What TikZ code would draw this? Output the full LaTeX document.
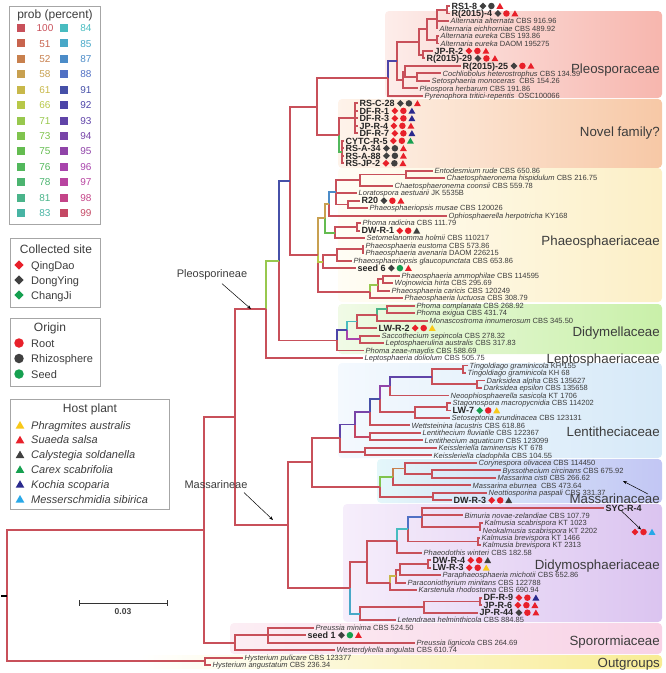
\documentclass[tikz,border=0pt]{standalone}
\usepackage{fontspec}
\setmainfont{Liberation Sans}
\usetikzlibrary{shapes.geometric,arrows.meta,positioning}

\definecolor{c100}{HTML}{C8505A}
\definecolor{c51}{HTML}{C8644E}
\definecolor{c52}{HTML}{C8804E}
\definecolor{c58}{HTML}{C8A050}
\definecolor{c61}{HTML}{C8B84A}
\definecolor{c66}{HTML}{B8C848}
\definecolor{c71}{HTML}{98C84E}
\definecolor{c73}{HTML}{80C44E}
\definecolor{c75}{HTML}{64BC50}
\definecolor{c76}{HTML}{52B85C}
\definecolor{c78}{HTML}{4CB470}
\definecolor{c81}{HTML}{4AB48A}
\definecolor{c83}{HTML}{48B4A4}
\definecolor{c84}{HTML}{48BCC0}
\definecolor{c85}{HTML}{48A8C8}
\definecolor{c87}{HTML}{4C8CC8}
\definecolor{c88}{HTML}{5070C4}
\definecolor{c91}{HTML}{4650A8}
\definecolor{c92}{HTML}{4C44A8}
\definecolor{c93}{HTML}{6044A8}
\definecolor{c94}{HTML}{7844A8}
\definecolor{c95}{HTML}{9044A8}
\definecolor{c96}{HTML}{A844AC}
\definecolor{c97}{HTML}{B844A0}
\definecolor{c98}{HTML}{C44488}
\definecolor{c99}{HTML}{C44864}
\definecolor{mred}{HTML}{E8202A}
\definecolor{mdark}{HTML}{404040}
\definecolor{mgreen}{HTML}{16A050}
\definecolor{myellow}{HTML}{F8C818}
\definecolor{mnavy}{HTML}{2A2A8E}
\definecolor{mblue}{HTML}{28A8E8}
\definecolor{txt}{HTML}{3C3C3C}
\definecolor{pleoL}{HTML}{FDEDEA}
\definecolor{pleoR}{HTML}{F7B6AE}
\definecolor{novL}{HTML}{FEF3EA}
\definecolor{novR}{HTML}{F7C8A6}
\definecolor{phaL}{HTML}{FFFDF5}
\definecolor{phaR}{HTML}{FCEFC6}
\definecolor{didL}{HTML}{F0FAE6}
\definecolor{didR}{HTML}{C9F0A9}
\definecolor{lenL}{HTML}{F4F9FE}
\definecolor{lenR}{HTML}{D6E9F8}
\definecolor{masL}{HTML}{E4F7FA}
\definecolor{masR}{HTML}{C2C6F4}
\definecolor{dimL}{HTML}{F6EEFB}
\definecolor{dimR}{HTML}{DBC4F0}
\definecolor{spoL}{HTML}{FCEEF4}
\definecolor{spoR}{HTML}{F8D2E6}
\definecolor{outR}{HTML}{F8EC94}

\newcommand\ly[1]{6+(#1-1)*7.49}
\newcommand\inode[3]{\coordinate (#1) at (#2,{\ly{#3}});}
\newcommand\kids[3][c100]{\foreach \kid in {#3} \draw[branch,draw=#1] (#2) |- (\kid);}
\newcommand\taxon[4]{\coordinate (t#1) at (#2,{\ly{#1}});
  \node[taxlab] (l#1) at (t#1) {\textit{#3} #4};}
\newcommand\markers[4]{\node[site,fill=#2] (#1d) at ([xshift=5.5pt]#1.east) {};
  \node[orig,fill=#3] (#1o) at ([xshift=8.5pt]#1d.center) {};
  \node[host,fill=#4] (#1h) at ([xshift=8.5pt]#1o.center) {};}
\newcommand\strain[6]{\coordinate (t#1) at (#2,{\ly{#1}});
  \node[strlab] (l#1) at (t#1) {#3};
  \markers{l#1}{#4}{#5}{#6}}

\begin{document}
\begin{tikzpicture}[x=1pt,y=-1pt,
  every node/.style={text=txt},
  branch/.style={line width=1.9pt},
  taxlab/.style={anchor=west,inner sep=0pt,xshift=1.5pt,text height=5.4pt,text depth=0pt,font=\fontsize{7.5}{8}\selectfont},
  strlab/.style={anchor=west,inner sep=0pt,xshift=1.5pt,text height=6.4pt,text depth=0pt,text=black!85,font=\bfseries\fontsize{9}{9.5}\selectfont},
  site/.style={diamond,inner sep=0pt,minimum size=7pt},
  orig/.style={circle,inner sep=0pt,minimum size=6.5pt},
  host/.style={regular polygon,regular polygon sides=3,inner sep=0pt,minimum size=8pt,yshift=-0.8pt},
  family/.style={anchor=east,inner sep=0pt,text height=9.5pt,text depth=0pt,font=\fontsize{13.3}{14}\selectfont},
  clade/.style={font=\fontsize{11}{12}\selectfont},
  pointer/.style={-{Stealth[length=4pt,width=3pt]},line width=0.5pt,draw=black},
  famshade/.style={rounded corners=4pt},
  legbox/.style={draw=gray!70,line width=0.8pt},
  legtitle/.style={font=\fontsize{12}{13}\selectfont},
  legtext/.style={anchor=west,inner sep=0pt,text height=8pt,text depth=0pt,font=\fontsize{11}{12}\selectfont},
  legnum/.style={inner sep=0pt,text height=7.2pt,text depth=0pt,font=\fontsize{10}{11}\selectfont},
  swatch/.style={minimum size=8pt,inner sep=0pt},
  lsite/.style={diamond,inner sep=0pt,minimum size=9.5pt},
  lorig/.style={circle,inner sep=0pt,minimum size=9.5pt},
  lhost/.style={regular polygon,regular polygon sides=3,inner sep=0pt,minimum size=10pt,yshift=-1pt}]
\useasboundingbox (0,0) rectangle (666,673);

% family backgrounds
\shade[famshade,left color=pleoL,right color=pleoR] (385,11) rectangle (662,98);
\shade[famshade,left color=novL,right color=novR] (338,99) rectangle (662,168);
\shade[famshade,left color=phaL,right color=phaR] (338,168) rectangle (662,302);
\shade[famshade,left color=didL,right color=didR] (338,304) rectangle (662,354);
\shade[famshade,left color=lenL,right color=lenR] (338,363) rectangle (662,458);
\shade[famshade,left color=masL,right color=masR] (377,459) rectangle (662,503);
\shade[famshade,left color=dimL,right color=dimR] (343,504) rectangle (662,622);
\shade[famshade,left color=spoL,right color=spoR] (230,623) rectangle (662,654);
\shade[famshade,left color=white,right color=outR] (140,655) rectangle (662,669);

% legends
\draw[legbox] (9,6) rectangle (100,224);
\node[legtitle] (probtitle) at (55,15) {prob (percent)};
\foreach \l/\r [count=\k from 0] in {100/84,51/85,52/87,58/88,61/91,66/92,71/93,73/94,75/95,76/96,78/97,81/98,83/99}{
  \node[swatch,fill=c\l] (sl\k) at (21,{28+15.42*\k}) {};
  \node[legnum,text=c\l] (nl\k) at (45,{28+15.42*\k}) {\l};
  \node[swatch,fill=c\r] (sr\k) at (64,{28+15.42*\k}) {};
  \node[legnum,text=c\r] (nr\k) at (86,{28+15.42*\k}) {\r};
}
\draw[legbox] (10,238) rectangle (100,307);
\node[legtitle] (sitetitle) at (56,249) {Collected site};
\foreach \col/\name [count=\k from 0] in {mred/QingDao,mdark/DongYing,mgreen/ChangJi}{
  \node[lsite,fill=\col] (cs\k) at (19,{265+15*\k}) {};
  \node[legtext] (cst\k) at (31,{265+15*\k}) {\name};
}
\draw[legbox] (10,318) rectangle (100,386);
\node[legtitle] (origtitle) at (50,328) {Origin};
\foreach \col/\name [count=\k from 0] in {mred/Root,mdark/Rhizosphere,mgreen/Seed}{
  \node[lorig,fill=\col] (or\k) at (19,{343+15.5*\k}) {};
  \node[legtext] (ort\k) at (31,{343+15.5*\k}) {\name};
}
\draw[legbox] (10,399) rectangle (169,509);
\node[legtitle] (hosttitle) at (90,409) {Host plant};
\foreach \col/\name [count=\k from 0] in {myellow/Phragmites australis,mred/Suaeda salsa,mdark/Calystegia soldanella,mgreen/Carex scabrifolia,mnavy/Kochia scoparia,mblue/Messerschmidia sibirica}{
  \node[lhost,fill=\col] (hp\k) at (20,{425+14.8*\k}) {};
  \node[legtext,font=\itshape\fontsize{11}{12}\selectfont] (hpt\k) at (31,{425+14.8*\k}) {\name};
}

% leaves: Pleosporaceae
\strain{1}{450}{RS1-8}{mdark}{mdark}{mred}
\strain{2}{450}{R(2015)-4}{mdark}{mred}{mred}
\taxon{3}{449}{Alternaria alternata}{CBS 916.96}
\taxon{4}{438}{Alternaria eichhorniae}{CBS 489.92}
\taxon{5}{439}{Alternaria eureka}{CBS 193.86}
\taxon{6}{439}{Alternaria eureka}{DAOM 195275}
\strain{7}{433}{JP-R-2}{mred}{mred}{mred}
\strain{8}{425}{R(2015)-29}{mdark}{mred}{mred}
\strain{9}{461}{R(2015)-25}{mdark}{mred}{mred}
\taxon{10}{441}{Cochliobolus heterostrophus}{CBS 134.39}
\taxon{11}{430}{Setosphaeria monoceras}{\ CBS 154.26}
\taxon{12}{418}{Pleospora herbarum}{CBS 191.86}
\taxon{13}{423}{Pyrenophora tritici-repentis}{\ OSC100066}
% Novel family
\strain{14}{358}{RS-C-28}{mdark}{mdark}{mred}
\strain{15}{358}{DF-R-1}{mred}{mred}{mnavy}
\strain{16}{358}{DF-R-3}{mred}{mred}{mnavy}
\strain{17}{358}{JP-R-4}{mred}{mred}{mred}
\strain{18}{358}{DF-R-7}{mred}{mred}{mnavy}
\strain{19}{344}{CYTC-R-5}{mred}{mred}{mgreen}
\strain{20}{344}{RS-A-34}{mdark}{mdark}{mred}
\strain{21}{344}{RS-A-88}{mdark}{mdark}{mred}
\strain{22}{344}{RS-JP-2}{mred}{mdark}{mred}
% Phaeosphaeriaceae
\taxon{23}{433}{Entodesmium rude}{CBS 650.86}
\taxon{24}{445}{Chaetosphaeronema hispidulum}{CBS 216.75}
\taxon{25}{393}{Chaetosphaeronema coonsii}{CBS 559.78}
\taxon{26}{357}{Loratospora aestuarii}{JK 5535B}
\strain{27}{360}{R20}{mdark}{mred}{mred}
\taxon{28}{368}{Phaeosphaeriopsis musae}{CBS 120026}
\taxon{29}{447}{Ophiosphaerella herpotricha}{KY168}
\taxon{30}{361}{Phoma radicina}{CBS 111.79}
\strain{31}{360}{DW-R-1}{mred}{mred}{mdark}
\taxon{32}{365}{Setomelanomma holmii}{CBS 110217}
\taxon{33}{364}{Phaeosphaeria eustoma}{CBS 573.86}
\taxon{34}{364}{Phaeosphaeria avenaria}{DAOM 226215}
\taxon{35}{352}{Phaeosphaeriopsis glaucopunctata}{CBS 653.86}
\strain{36}{356}{seed 6}{mdark}{mgreen}{mred}
\taxon{37}{400}{Phaeosphaeria ammophilae}{CBS 114595}
\taxon{38}{393}{Wojnowicia hirta}{CBS 295.69}
\taxon{39}{390}{Phaeosphaeria caricis}{CBS 120249}
\taxon{40}{403}{Phaeosphaeria luctuosa}{CBS 308.79}
% Didymellaceae, Leptosphaeriaceae
\taxon{41}{415}{Phoma complanata}{CBS 268.92}
\taxon{42}{415}{Phoma exigua}{CBS 431.74}
\taxon{43}{428}{Monascostroma innumerosum}{CBS 345.50}
\strain{44}{377}{LW-R-2}{mred}{mred}{myellow}
\taxon{45}{380}{Saccothecium sepincola}{CBS 278.32}
\taxon{46}{384}{Leptosphaerulina australis}{CBS 317.83}
\taxon{47}{364}{Phoma zeae-maydis}{CBS 588.69}
\taxon{48}{363}{Leptosphaeria doliolum}{CBS 505.75}
% Lentitheciaceae
\taxon{49}{468}{Tingoldiago graminicola}{KH 155}
\taxon{50}{466}{Tingoldiago graminicola}{KH 68}
\taxon{51}{485}{Darksidea alpha}{CBS 135627}
\taxon{52}{482}{Darksidea epsilon}{CBS 135658}
\taxon{53}{449}{Neoophiosphaerella sasicola}{KT 1706}
\taxon{54}{451}{Stagonospora macropycnidia}{CBS 114202}
\strain{55}{451}{LW-7}{mgreen}{mred}{myellow}
\taxon{56}{450}{Setoseptoria arundinacea}{CBS 123131}
\taxon{57}{410}{Wettsteinina lacustris}{CBS 618.86}
\taxon{58}{421}{Lentithecium fluviatile}{CBS 122367}
\taxon{59}{423}{Lentithecium aquaticum}{CBS 123099}
\taxon{60}{437}{Keissleriella taminensis}{KT 678}
\taxon{61}{432}{Keissleriella cladophila}{CBS 104.55}
% Massarinaceae
\taxon{62}{477}{Corynespora olivacea}{CBS 114450}
\taxon{63}{501}{Byssothecium circinans}{CBS 675.92}
\taxon{64}{496}{Massarina cisti}{CBS 266.62}
\taxon{65}{471}{Massarina eburnea}{\ CBS 473.64}
\taxon{66}{487}{Neottiosporina paspali}{CBS 331.37}
\strain{67}{452}{DW-R-3}{mred}{mred}{mdark}
% Didymosphaeriaceae
\coordinate (t68) at (604,{\ly{68}});
\node[strlab] (l68) at (t68) {SYC-R-4};
\node[site,fill=mred] (l68d) at (635,532) {};
\node[orig,fill=mred] (l68o) at (643.5,532) {};
\node[host,fill=mblue] (l68h) at (652,532) {};
\draw[pointer] ([xshift=-2pt]l68.south) -- (l68o.north west);
\taxon{69}{463}{Bimuria novae-zelandiae}{CBS 107.79}
\taxon{70}{483}{Kalmusia scabrispora}{KT 1023}
\taxon{71}{481}{Neokalmusia scabrispora}{KT 2202}
\taxon{72}{480}{Kalmusia brevispora}{KT 1466}
\taxon{73}{481}{Kalmusia brevispora}{KT 2313}
\taxon{74}{422}{Phaeodothis winteri}{CBS 182.58}
\strain{75}{431}{DW-R-4}{mred}{mred}{mdark}
\strain{76}{431}{LW-R-3}{mred}{mred}{myellow}
\taxon{77}{441}{Paraphaeosphaeria michotii}{CBS 652.86}
\taxon{78}{406}{Paraconiothyrium minitans}{CBS 122788}
\taxon{79}{417}{Karstenula rhodostoma}{CBS 690.94}
\strain{80}{482}{DF-R-9}{mred}{mred}{mnavy}
\strain{81}{482}{JP-R-6}{mred}{mred}{mred}
\strain{82}{478}{JP-R-44}{mdark}{mred}{mred}
\taxon{83}{396}{Letendraea helminthicola}{CBS 884.85}
% Sporormiaceae, outgroups
\taxon{84}{314}{Preussia minima}{CBS 524.50}
\strain{85}{306}{seed 1}{mdark}{mgreen}{mred}
\taxon{86}{415}{Preussia lignicola}{CBS 264.69}
\taxon{87}{335}{Westerdykella angulata}{CBS 610.74}
\taxon{88}{243}{Hysterium pulicare}{CBS 123377}
\taxon{89}{211}{Hysterium angustatum}{CBS 236.34}

% internal nodes
\inode{a1}{447}{1.5} \inode{a2}{437}{2.75} \inode{a4}{437}{5.5}
\inode{a5}{427}{4.125} \inode{a6}{423}{7.5} \inode{a7}{419}{5.8125}
\inode{a8}{417}{10.5} \inode{a9}{405}{9.75} \inode{a10}{403}{10.875}
\inode{a11}{397}{8.34375} \inode{a12}{388}{10.671875}
\inode{nf1}{355}{16} \inode{nf2}{342}{20.5} \inode{nf}{339}{18.25}
\inode{pq}{317}{14.4609}
\inode{d1}{406}{23.5} \inode{d2}{360}{24.25} \inode{d4}{348}{27.5}
\inode{d3}{336}{25.875} \inode{d5}{329}{27.4375}
\inode{e1}{357}{30.5} \inode{e2}{335}{31.25} \inode{pha}{325}{29.34375}
\inode{c1}{363}{33.5} \inode{c2}{337}{34.25} \inode{c3}{323}{35.125}
\inode{b1}{383}{37.5} \inode{b2}{378}{38.25} \inode{b3}{370}{39.125}
\inode{ph}{318}{34.234375} \inode{pl2}{290}{24.3477}
\inode{f1}{387}{41.5} \inode{f2}{377}{42.25} \inode{f3}{357}{43.125}
\inode{f4}{360}{45.5} \inode{dd1}{347}{44.3125} \inode{dd0}{337}{45.65625}
\inode{pl1}{279}{35.002} \inode{pleo}{266}{41.501}
\inode{g1}{463}{49.5} \inode{g2}{477}{51.5} \inode{g3}{432}{50.5} \inode{g4}{390}{51.75}
\inode{h1}{447}{54.5} \inode{h2}{415}{55.25} \inode{lv}{380}{53.5} \inode{lw}{370}{55.25}
\inode{h4}{370}{58.5} \inode{l1}{355}{56.875} \inode{k1}{365}{60.5} \inode{l0}{340}{58.6875}
\inode{mb}{432}{63.5} \inode{ma}{405}{62.75} \inode{m4}{393}{63.875}
\inode{m5}{433}{66.5} \inode{mc}{380}{65.1875} \inode{m1}{312}{61.9375}
\inode{n1}{480}{70.5} \inode{n4}{422}{69.25} \inode{n2}{478}{72.5}
\inode{n3}{408}{70.875} \inode{n6}{397}{72.4375}
\inode{r1}{428}{75.5} \inode{r2}{400}{76.25} \inode{r3}{396}{77.125}
\inode{r4}{390}{78.0625} \inode{n7}{367}{75.25}
\inode{q1}{480}{80.5} \inode{q2}{424}{81.25} \inode{q0}{360}{82.125}
\inode{di0}{350}{78.6875} \inode{mass}{288}{70.3125}
\inode{s2}{268}{85} \inode{spo}{235}{86} \inode{pm}{235}{55.9068}
\inode{nn1}{204}{70.9534} \inode{out}{205}{88.5} \inode{root}{7}{79.7267}
\coordinate (rootend) at (1,{\ly{79.7267}});

% branches
\kids{a1}{t1,t2} \kids{a2}{a1,t3,t4} \kids{a4}{t5,t6} \kids{a5}{a2,a4}
\kids{a6}{t7,t8} \kids{a7}{a5,a6} \kids{a8}{t10,t11} \kids{a9}{t9,a8}
\kids{a10}{a9,t12} \kids{a11}{a7,a10} \kids[c92]{a12}{a11} \kids{a12}{t13}
\kids{nf1}{t14,t15,t16,t17,t18} \kids{nf2}{t19,t20,t21,t22}
\kids{nf}{nf1} \kids[c76]{nf}{nf2} \kids{pq}{a12,nf}
\kids{d1}{t23,t24} \kids{d2}{d1,t25} \kids{d4}{t27,t28} \kids{d3}{d2,t26,d4}
\kids[c87]{d5}{d3} \kids{d5}{t29}
\kids{e1}{t30,t31} \kids{e2}{e1,t32} \kids[c58]{pha}{d5} \kids[c75]{pha}{e2}
\kids{c1}{t33,t34} \kids{c2}{c1,t35} \kids{c3}{c2,t36}
\kids{b1}{t37,t38} \kids{b2}{b1,t39} \kids[c71]{b3}{b2} \kids{b3}{t40}
\kids{ph}{b3} \kids[c58]{ph}{pha} \kids[c66]{ph}{c3}
\kids{pl2}{pq,ph}
\kids{f1}{t41,t42} \kids[c81]{f2}{f1} \kids{f2}{t43} \kids{f3}{f2,t44}
\kids{f4}{t45,t46} \kids[c84]{dd1}{f3} \kids[c96]{dd1}{f4}
\kids[c92]{dd0}{dd1} \kids{dd0}{t47}
\kids{pl1}{dd0} \kids[c91]{pl1}{pl2} \kids{pleo}{t48} \kids[c71]{pleo}{pl1}
\kids{g1}{t49,t50} \kids{g2}{t51,t52} \kids{g3}{g1,g2} \kids[c93]{g4}{g3} \kids{g4}{t53}
\kids{h1}{t54,t55} \kids{h2}{h1,t56} \kids[c95]{lv}{g4} \kids{lv}{h2}
\kids[c91]{lw}{lv} \kids{lw}{t57}
\kids{h4}{t58,t59} \kids[c94]{l1}{lw} \kids[c99]{l1}{h4}
\kids{k1}{t60,t61} \kids[c93]{l0}{l1} \kids{l0}{k1}
\kids{mb}{t63,t64} \kids{ma}{t62,mb} \kids[c52]{m4}{ma} \kids{m4}{t65}
\kids{m5}{t66,t67} \kids[c73]{mc}{m4} \kids{mc}{m5} \kids{m1}{l0,mc}
\kids{n1}{t70,t71} \kids{n4}{t68,t69,n1} \kids{n2}{t72,t73}
\kids[c88]{n3}{n4} \kids{n3}{n2} \kids[c84]{n6}{n3} \kids{n6}{t74}
\kids{r1}{t75,t76} \kids{r2}{r1,t77} \kids{r3}{r2,t78} \kids[c61]{r4}{r3} \kids{r4}{t79}
\kids{n7}{n6,r4}
\kids{q1}{t80,t81} \kids{q2}{q1,t82} \kids{q0}{q2,t83}
\kids{di0}{n7} \kids[c85]{di0}{q0}
\kids{mass}{m1,di0}
\kids{s2}{t84,t85,t86} \kids{spo}{s2,t87}
\kids{pm}{pleo,mass} \kids{nn1}{pm,spo} \kids{out}{t88,t89} \kids{root}{nn1,out}
\draw[line width=1.9pt,black] (rootend) -- (root);

% scale bar
\coordinate (sb1) at (79,603);
\coordinate (sb2) at (167,603);
\draw[line width=1pt,black!80] (sb1) -- (sb2);
\draw[line width=1pt,black!80] (sb1) ++(0,-3) -- ++(0,6);
\draw[line width=1pt,black!80] (sb2) ++(0,-3) -- ++(0,6);
\node[font=\bfseries\fontsize{8.5}{9}\selectfont,text=black!75] (sblab) at (123,612) {0.03};

% suborders
\node[clade] (pleolab) at (212,275) {Pleosporineae};
\coordinate (pleotip) at (251,309);
\draw[pointer] ([xshift=10pt]pleolab.south) -- (pleotip);
\node[clade] (masslab) at (216,485) {Massarineae};
\coordinate (masstip) at (273,520);
\draw[pointer] ([xshift=28pt]masslab.south) -- (masstip);

% families
\node[family] (fam1) at (660,69) {Pleosporaceae};
\node[family] (fam2) at (660,132) {Novel family?};
\node[family] (fam3) at (660,241) {Phaeosphaeriaceae};
\node[family] (fam4) at (660,332) {Didymellaceae};
\node[family] (fam5) at (660,359) {Leptosphaeriaceae};
\node[family] (fam6) at (660,432) {Lentitheciaceae};
\node[family] (fam7) at (660,499) {Massarinaceae};
\node[family] (fam8) at (660,565) {Didymosphaeriaceae};
\node[family] (fam9) at (660,641) {Sporormiaceae};
\node[family] (fam10) at (660,663) {Outgroups};
\coordinate (masbox) at (623,481);
\draw[pointer] ([xshift=-12pt]fam7.north east) -- (masbox);
\end{tikzpicture}
\end{document}
